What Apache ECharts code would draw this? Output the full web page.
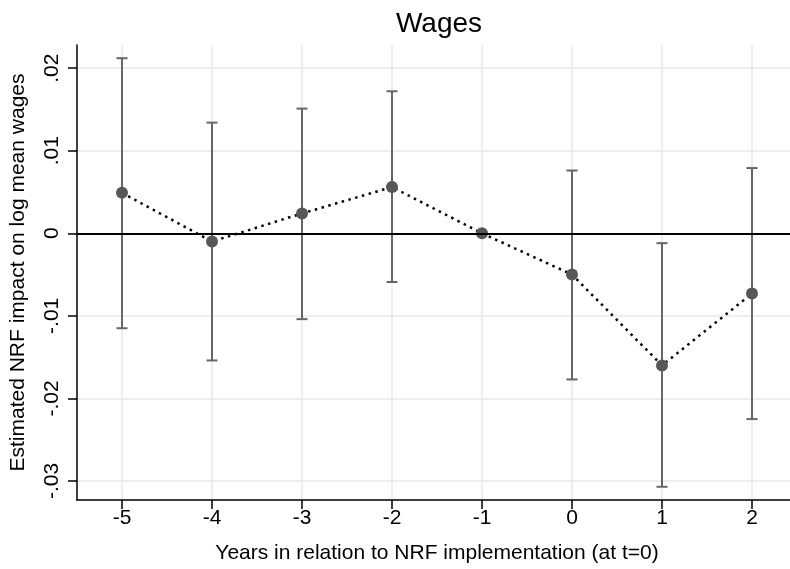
<!DOCTYPE html>
<html>
<head>
<meta charset="utf-8">
<script src="https://cdn.jsdelivr.net/npm/echarts@6/dist/echarts.min.js"></script>
<style>html,body{margin:0;padding:0;background:#fff;overflow:hidden;}#c{width:797px;height:569px;}</style>
</head>
<body>
<div id="c"></div>
<script>
const years = [-5, -4, -3, -2, -1, 0, 1, 2];
const estimates = [0.0049, -0.0010, 0.0024, 0.0056, 0.0, -0.0050, -0.0160, -0.0073];
const ciUpper = [0.0212, 0.0134, 0.0151, 0.0172, null, 0.0076, -0.0012, 0.0079];
const ciLower = [-0.0115, -0.0154, -0.0104, -0.0059, null, -0.0177, -0.0307, -0.0225];
const yTicks = [-0.03, -0.02, -0.01, 0, 0.01, 0.02];
const xTicks = [-5, -4, -3, -2, -1, 0, 1, 2];

const FONT = 'Liberation Sans, Arial, sans-serif';
const fmtY = v => {
  if (Math.abs(v) < 1e-12) return '0';
  return (v < 0 ? '-' : '') + Math.abs(v).toFixed(2).replace(/^0/, '');
};

const ciData = [];
years.forEach((y, i) => {
  if (ciLower[i] != null && ciUpper[i] != null) ciData.push([y, ciLower[i], ciUpper[i]]);
});

const chart = echarts.init(document.getElementById('c'), null, {renderer: 'canvas'});
chart.setOption({
  animation: false,
  backgroundColor: '#fff',
  title: {
    text: 'Wages', left: 434, top: 5, textAlign: 'center',
    textStyle: {fontFamily: FONT, fontSize: 28, fontWeight: 'normal', color: '#000'}
  },
  grid: {left: 77, right: 0, top: 45, bottom: 68, containLabel: false},
  xAxis: {
    type: 'value', min: -5.5, max: 2.5,
    name: 'Years in relation to NRF implementation (at t=0)',
    nameLocation: 'middle', nameGap: 43,
    nameTextStyle: {fontFamily: FONT, fontSize: 21, color: '#000'},
    axisLine: {show: true, onZero: false, lineStyle: {color: '#000', width: 1.5}},
    axisTick: {show: true, length: 9, customValues: xTicks, lineStyle: {color: '#000', width: 1.5}},
    axisLabel: {customValues: xTicks, fontFamily: FONT, fontSize: 21, color: '#000', margin: 8,
      formatter: v => String(v)},
    splitLine: {show: true, lineStyle: {color: '#e8e8e8', width: 1.5}}
  },
  yAxis: {
    type: 'value', min: -0.0323, max: 0.0228,
    name: 'Estimated NRF impact on log mean wages',
    nameLocation: 'middle', nameGap: 48,
    nameTextStyle: {fontFamily: FONT, fontSize: 21, color: '#000'},
    axisLine: {show: true, onZero: false, lineStyle: {color: '#000', width: 1.5}},
    axisTick: {show: true, length: 9, customValues: yTicks, lineStyle: {color: '#000', width: 1.5}},
    axisLabel: {customValues: yTicks, rotate: 90, fontFamily: FONT, fontSize: 21, color: '#000', margin: 14,
      formatter: fmtY},
    splitLine: {show: true, lineStyle: {color: '#e8e8e8', width: 1.5}}
  },
  series: [
    {
      type: 'custom',
      z: 3,
      data: ciData,
      encode: {x: 0, y: [1, 2]},
      markLine: {
        silent: true, symbol: 'none', animation: false,
        label: {show: false},
        lineStyle: {color: '#000', width: 2, type: 'solid'},
        data: [{yAxis: 0}]
      },
      renderItem: function (params, api) {
        const x = api.value(0), lo = api.value(1), hi = api.value(2);
        const pHi = api.coord([x, hi]);
        const pLo = api.coord([x, lo]);
        const hw = 5.5;
        const st = {stroke: '#666666', lineWidth: 2};
        return {
          type: 'group',
          children: [
            {type: 'line', shape: {x1: pHi[0], y1: pHi[1], x2: pLo[0], y2: pLo[1]}, style: st},
            {type: 'line', shape: {x1: pHi[0] - hw, y1: pHi[1], x2: pHi[0] + hw, y2: pHi[1]}, style: st},
            {type: 'line', shape: {x1: pLo[0] - hw, y1: pLo[1], x2: pLo[0] + hw, y2: pLo[1]}, style: st}
          ]
        };
      }
    },
    {
      type: 'line',
      z: 4,
      data: years.map((y, i) => [y, estimates[i]]),
      symbol: 'circle', symbolSize: 12,
      itemStyle: {color: '#575757', borderWidth: 0},
      lineStyle: {color: '#000', width: 2.5, type: [2.5, 4.5]}
    }
  ]
});
</script>
</body>
</html>
